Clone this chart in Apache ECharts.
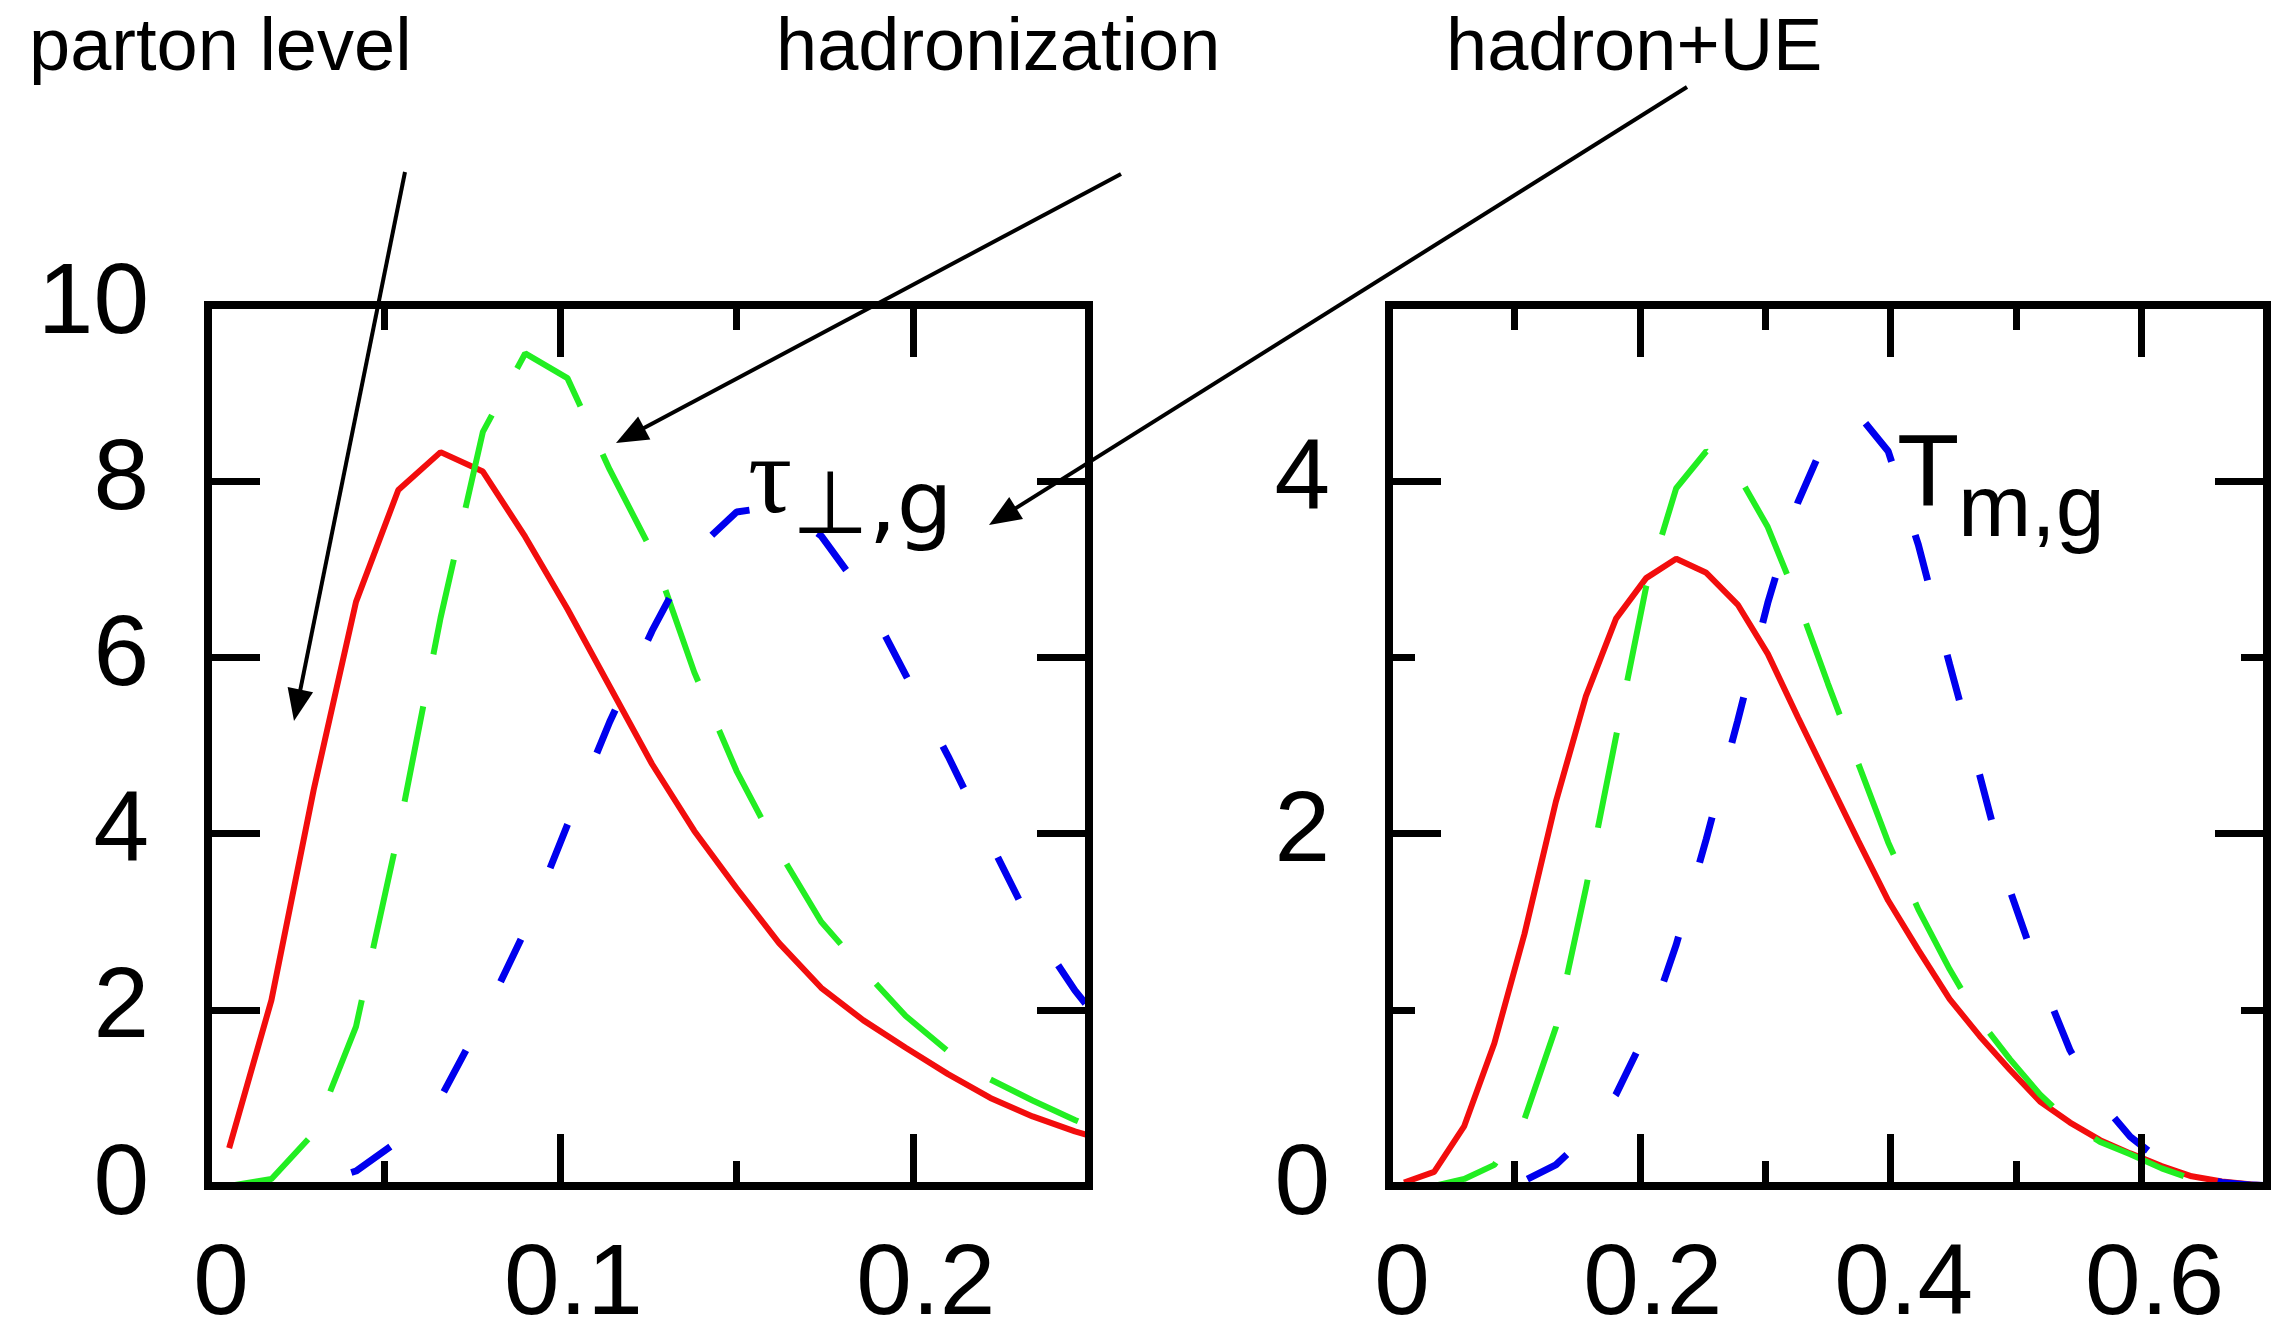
<!DOCTYPE html>
<html><head><meta charset="utf-8">
<script src="https://cdn.jsdelivr.net/npm/echarts@6/dist/echarts.min.js"></script>
<style>html,body{margin:0;padding:0;background:#fff}#c{width:2274px;height:1332px}</style>
</head><body><div id="c"></div>
<script>
// ---------- data: left panel (tau_perp,g) ----------
const tauX = [0.006, 0.018, 0.030, 0.042, 0.054, 0.066, 0.078, 0.090, 0.102, 0.114, 0.126,
              0.138, 0.150, 0.162, 0.174, 0.186, 0.198, 0.210, 0.222, 0.234, 0.246, 0.258];
const tauParton   = [0.43, 2.11, 4.50, 6.63, 7.90, 8.33, 8.11, 7.37, 6.55, 5.67, 4.79,
                     4.03, 3.38, 2.76, 2.25, 1.88, 1.57, 1.27, 1.00, 0.79, 0.62, 0.48];
const tauHadron   = [0.00, 0.08, 0.60, 1.81, 4.00, 6.45, 8.56, 9.45, 9.17, 8.13, 7.20,
                     5.83, 4.71, 3.80, 3.00, 2.45, 1.93, 1.53, 1.21, 0.97, 0.75, 0.55];
const tauHadronUE = [0.00, 0.00, 0.02, 0.17, 0.51, 1.00, 1.90, 2.90, 4.10, 5.27, 6.30,
                     7.20, 7.65, 7.72, 7.38, 6.72, 5.80, 4.88, 3.90, 2.94, 2.22, 1.62];
// ---------- data: right panel (T_m,g) ----------
const tmX = [0.012, 0.036, 0.060, 0.084, 0.108, 0.133, 0.157, 0.181, 0.205, 0.229, 0.253,
             0.278, 0.302, 0.326, 0.350, 0.374, 0.398, 0.422, 0.447, 0.471, 0.495, 0.519,
             0.543, 0.567, 0.591, 0.616, 0.640, 0.664, 0.688, 0.712];
const tmParton   = [0.02, 0.08, 0.34, 0.81, 1.43, 2.18, 2.78, 3.22, 3.45, 3.56, 3.48,
                    3.30, 3.02, 2.66, 2.31, 1.96, 1.62, 1.34, 1.06, 0.85, 0.66, 0.48,
                    0.36, 0.26, 0.185, 0.113, 0.055, 0.026, 0.008, 0.0];
const tmHadron   = [0.00, 0.00, 0.04, 0.12, 0.38, 0.90, 1.69, 2.55, 3.40, 3.96, 4.17,
                    4.04, 3.74, 3.32, 2.85, 2.40, 1.95, 1.57, 1.23, 0.94, 0.72, 0.52,
                    0.36, 0.25, 0.18, 0.10, 0.04, 0.015, 0.005, 0.0];
const tmHadronUE = [0.00, 0.00, 0.00, 0.005, 0.03, 0.12, 0.28, 0.52, 0.87, 1.37, 1.97,
                    2.64, 3.31, 3.88, 4.27, 4.38, 4.17, 3.64, 2.96, 2.33, 1.68, 1.19,
                    0.77, 0.48, 0.28, 0.14, 0.06, 0.02, 0.005, 0.0];
// ---------- axis ranges / ticks: [min, max, majorInterval, minorInterval] ----------
const tauXAxis = [0, 0.25, 0.1, 0.05];
const tauYAxis = [0, 10, 2, null];
const tmXAxis  = [0, 0.7, 0.2, 0.1];
const tmYAxis  = [0, 5, 2, 1];
// ---------- annotation texts ----------
const topLabels = ['parton level', 'hadronization', 'hadron+UE'];

const FONT = "'Liberation Sans', Arial, Helvetica, sans-serif";
const chart = echarts.init(document.getElementById('c'), null, {renderer: 'canvas'});

const xAxes = [], yAxes = [];
function addAxes(g, xr, yr) {
  const firstX = xAxes.length, firstY = yAxes.length;
  const base = (pos, min, max, interval, len, label, line) => ({
    gridIndex: g, type: 'value', position: pos, min: min, max: max, interval: interval, z: 5,
    splitLine: {show: false}, minorTick: {show: false},
    axisLine: {show: line, onZero: false, lineStyle: {color: '#000', width: 8, cap: 'square'}},
    axisTick: {show: true, inside: true, length: len, lineStyle: {color: '#000', width: 7}},
    axisLabel: label ? Object.assign({show: true, color: '#000', fontFamily: FONT, fontSize: 100,
      showMinLabel: true}, label) : {show: false}
  });
  xAxes.push(base('bottom', xr[0], xr[1], xr[2], 52,
    {margin: 50, showMaxLabel: false, padding: [0, 0, 0, 26]}, true));
  xAxes.push(base('bottom', xr[0], xr[1], xr[3], 25, null, false));
  xAxes.push(base('top', xr[0], xr[1], xr[2], 52, null, true));
  xAxes.push(base('top', xr[0], xr[1], xr[3], 25, null, false));
  yAxes.push(base('left', yr[0], yr[1], yr[2], 52,
    {margin: 59, showMaxLabel: yr[1] % yr[2] === 0}, true));
  yAxes.push(base('right', yr[0], yr[1], yr[2], 52, null, true));
  if (yr[3]) {
    yAxes.push(base('left', yr[0], yr[1], yr[3], 26, null, false));
    yAxes.push(base('right', yr[0], yr[1], yr[3], 26, null, false));
  }
  return [firstX, firstY];
}
const [tx, ty] = addAxes(0, tauXAxis, tauYAxis);
const [mx, my] = addAxes(1, tmXAxis, tmYAxis);

function line(name, xs, ys, xi, yi, color, width, dash) {
  return {
    name: name, type: 'line', xAxisIndex: xi, yAxisIndex: yi, z: 2,
    data: xs.map((x, i) => [x, ys[i]]), symbol: 'none', smooth: false, clip: true,
    animation: false,
    lineStyle: {color: color, width: width, type: dash || 'solid', cap: 'butt'}
  };
}
const RED = '#f20d0d', GREEN = '#22ee22', BLUE = '#0000ee';
const series = [
  line('parton level', tauX, tauParton, tx, ty, RED, 6),
  line('hadronization', tauX, tauHadron, tx, ty, GREEN, 6, [97, 53]),
  line('hadron+UE', tauX, tauHadronUE, tx, ty, BLUE, 7, [47, 77]),
  line('parton level', tmX, tmParton, mx, my, RED, 6),
  line('hadronization', tmX, tmHadron, mx, my, GREEN, 6, [97, 53]),
  line('hadron+UE', tmX, tmHadronUE, mx, my, BLUE, 7, [47, 77])
];

// annotation arrows (pixel positions of the annotation layer)
function arrow(x1, y1, x2, y2) {
  const L = 32, W = 13;
  const dx = x2 - x1, dy = y2 - y1, len = Math.hypot(dx, dy);
  const ux = dx / len, uy = dy / len;
  const bx = x2 - ux * L, by = y2 - uy * L;
  return [
    {type: 'line', z: 100, shape: {x1: x1, y1: y1, x2: bx + ux * 4, y2: by + uy * 4},
     style: {stroke: '#000', lineWidth: 4}},
    {type: 'polygon', z: 100, shape: {points: [[x2, y2], [bx - uy * W, by + ux * W], [bx + uy * W, by - ux * W]]},
     style: {fill: '#000'}}
  ];
}
function txt(s, x, y, size, family, align) {
  return {type: 'text', z: 100, x: x, y: y,
    style: {text: s, fill: '#000', fontSize: size, fontFamily: family, align: align || 'left', verticalAlign: 'middle'}};
}
const graphic = [].concat(
  txt(topLabels[0], 29, 50, 74, FONT),
  txt(topLabels[1], 776, 50, 74, FONT),
  txt(topLabels[2], 1446, 50, 74, FONT),
  arrow(405, 172, 294, 721),
  arrow(1121, 174, 616, 443),
  arrow(1687, 87, 989, 525),
  txt('τ', 748, 483, 110, "'Liberation Serif', 'DejaVu Serif', serif"),
  txt('⊥,g', 792, 510, 88, "'DejaVu Sans', 'Liberation Sans', sans-serif"),
  txt('T', 1897, 478, 102, FONT),
  txt('m,g', 1958, 512, 88, FONT)
);

chart.setOption({
  animation: false,
  backgroundColor: '#fff',
  grid: [
    {left: 208, top: 305, width: 881, height: 881, containLabel: false, outerBoundsMode: 'none'},
    {left: 1389, top: 305, width: 878, height: 881, containLabel: false, outerBoundsMode: 'none'}
  ],
  xAxis: xAxes,
  yAxis: yAxes,
  series: series,
  graphic: graphic
});
</script>
</body></html>
